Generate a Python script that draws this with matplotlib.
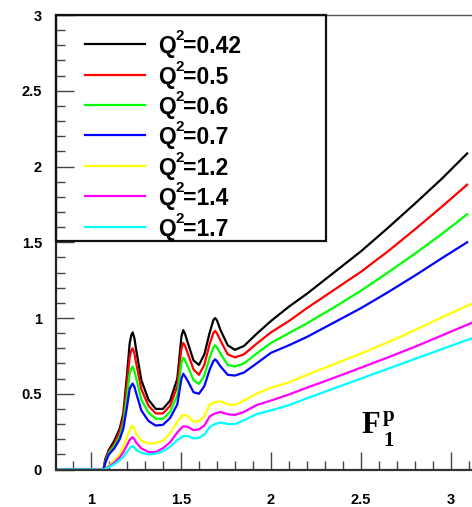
import numpy as np
import matplotlib
matplotlib.use("Agg")
import matplotlib.pyplot as plt
from matplotlib.patches import Rectangle
from matplotlib.ticker import MultipleLocator

plt.rcParams['font.family'] = ['Liberation Sans', 'DejaVu Sans']

nan = np.nan
W = [0.80, 1.07, 1.08, 1.10, 1.13, 1.16, 1.18, 1.20, 1.215, 1.224, 1.232, 1.242, 1.25, 1.28,
     1.32, 1.36, 1.40, 1.44, 1.48, 1.503, 1.513, 1.523, 1.54, 1.57, 1.60, 1.63, 1.66, 1.68,
     1.69, 1.70, 1.72, 1.76, 1.80, 1.85, 1.92, 2.0, 2.1, 2.2, 2.35, 2.5, 2.65, 2.8, 2.95,
     3.09, 3.15]

q2_labels = ['0.42', '0.5', '0.6', '0.7', '1.2', '1.4', '1.7']
colors = ['#000000', '#ff0000', '#00ff00', '#0000ff', '#ffff00', '#ff00ff', '#00ffff']

f_042 = [0, 0, 0.07, 0.13, 0.19, 0.27, 0.37, 0.62, 0.83, 0.885, 0.905, 0.865, 0.80, 0.59,
         0.46, 0.40, 0.40, 0.455, 0.60, 0.88, 0.92, 0.895, 0.83, 0.72, 0.69, 0.76, 0.905, 0.985,
         1.00, 0.985, 0.92, 0.82, 0.79, 0.815, 0.895, 0.98, 1.075, 1.16, 1.30, 1.44, 1.595, 1.755, 1.92,
         2.086, nan]
f_05 = [0, 0, 0.06, 0.12, 0.17, 0.25, 0.34, 0.56, 0.74, 0.785, 0.80, 0.765, 0.71, 0.53,
        0.42, 0.37, 0.37, 0.42, 0.55, 0.80, 0.835, 0.815, 0.76, 0.66, 0.625, 0.69, 0.83, 0.90,
        0.915, 0.90, 0.85, 0.76, 0.74, 0.76, 0.83, 0.905, 0.98, 1.065, 1.185, 1.305, 1.44, 1.585, 1.735,
        1.88, nan]
f_06 = [0, 0, 0.05, 0.11, 0.155, 0.22, 0.30, 0.48, 0.63, 0.665, 0.68, 0.65, 0.61, 0.46,
        0.375, 0.335, 0.335, 0.38, 0.49, 0.705, 0.738, 0.72, 0.675, 0.59, 0.565, 0.62, 0.74, 0.805,
        0.82, 0.805, 0.765, 0.69, 0.68, 0.70, 0.765, 0.835, 0.90, 0.965, 1.07, 1.18, 1.30, 1.425, 1.555,
        1.685, nan]
f_07 = [0, 0, 0.045, 0.10, 0.14, 0.20, 0.27, 0.41, 0.53, 0.555, 0.567, 0.545, 0.51, 0.39,
        0.32, 0.29, 0.295, 0.34, 0.43, 0.60, 0.632, 0.615, 0.58, 0.51, 0.50, 0.55, 0.66, 0.715,
        0.727, 0.715, 0.68, 0.625, 0.62, 0.64, 0.70, 0.77, 0.82, 0.875, 0.97, 1.065, 1.17, 1.28, 1.395,
        1.50, nan]
f_12 = [0, 0, 0.005, 0.025, 0.06, 0.10, 0.15, 0.215, 0.26, 0.28, 0.29, 0.27, 0.24, 0.19,
        0.17, 0.175, 0.19, 0.24, 0.315, 0.35, 0.36, 0.36, 0.35, 0.315, 0.32, 0.35, 0.43, 0.44,
        0.445, 0.447, 0.45, 0.43, 0.425, 0.455, 0.50, 0.54, 0.575, 0.625, 0.695, 0.765, 0.84, 0.92, 1.005,
        1.08, 1.11]
f_14 = [0, 0, 0.004, 0.02, 0.045, 0.08, 0.115, 0.16, 0.195, 0.207, 0.213, 0.20, 0.18, 0.14,
        0.115, 0.115, 0.14, 0.18, 0.245, 0.275, 0.285, 0.285, 0.28, 0.26, 0.265, 0.29, 0.35, 0.365,
        0.37, 0.373, 0.38, 0.365, 0.36, 0.38, 0.425, 0.455, 0.495, 0.54, 0.605, 0.672, 0.74, 0.81, 0.885,
        0.955, 0.985]
f_17 = [0, 0, 0.003, 0.015, 0.035, 0.06, 0.085, 0.115, 0.14, 0.15, 0.154, 0.145, 0.13, 0.11,
        0.10, 0.105, 0.12, 0.15, 0.195, 0.212, 0.22, 0.222, 0.22, 0.205, 0.21, 0.23, 0.28, 0.295,
        0.30, 0.303, 0.31, 0.30, 0.30, 0.325, 0.365, 0.39, 0.425, 0.47, 0.535, 0.60, 0.665, 0.73, 0.795,
        0.855, 0.88]
series = [f_042, f_05, f_06, f_07, f_12, f_14, f_17]

FW, FH = 472, 507
fig = plt.figure(figsize=(FW / 100, FH / 100), dpi=100)
ax = fig.add_axes([0.11864, 0.07396, 0.88136, 0.89645])


def px(x, y):
    # pixel position (from top left) -> figure fraction
    return x / FW, 1 - y / FH


for f, c in zip(series, colors):
    ax.plot(W, f, color=c, lw=1.6)

ax.set_xlim(0.806, 3.117)
ax.set_ylim(0, 3)
ax.xaxis.set_minor_locator(MultipleLocator(0.1))
ax.yaxis.set_minor_locator(MultipleLocator(0.1))
ax.set_xticks([1, 1.5, 2, 2.5, 3])
ax.set_xticklabels(['1', '1.5', '2', '2.5', '3'])
ax.set_yticks([0, 0.5, 1, 1.5, 2, 2.5, 3])
ax.set_yticklabels(['0', '0.5', '1', '1.5', '2', '2.5', '3'])
ax.tick_params(which='both', direction='in', color='#444444', width=1)
ax.tick_params(which='major', length=13)
ax.tick_params(which='minor', length=6.5)
ax.tick_params(axis='x', which='major', pad=17)
ax.tick_params(axis='y', which='major', pad=10)
for lab in ax.get_xticklabels() + ax.get_yticklabels():
    lab.set_fontweight('bold')
    lab.set_fontsize(10.5)

ax.spines['right'].set_visible(False)
ax.spines['top'].set_color('#555555')
ax.spines['top'].set_linewidth(1)
ax.spines['left'].set_linewidth(1.6)
ax.spines['left'].set_color('#222222')
ax.spines['bottom'].set_linewidth(1.6)
ax.spines['bottom'].set_color('#333333')

# legend box
ax.add_patch(Rectangle((0, 0.503), 0.649, 0.497, transform=ax.transAxes, fill=False,
                       ec='#111111', lw=1.6, zorder=5, clip_on=False))
row_px = [44, 75, 105, 135, 166, 196, 227]
for ypx, lab, c in zip(row_px, q2_labels, colors):
    yf = (470 - ypx) / 455
    ax.plot([0.0697, 0.214], [yf, yf], color=c, lw=1.6, transform=ax.transAxes)
    fig.text(*px(158, ypx + 9), 'Q', fontsize=16.5, fontweight='bold', va='baseline')
    fig.text(*px(175, ypx - 4), '2', fontsize=11, fontweight='bold', va='baseline')
    fig.text(*px(183, ypx + 9), '=' + lab, fontsize=16.5, fontweight='bold', va='baseline')

# F_1^p label
fig.text(*px(361, 433), 'F', fontsize=22, fontweight='bold', family='Liberation Serif',
         va='baseline')
fig.text(*px(383, 421), 'p', fontsize=15, fontweight='bold', family='Liberation Serif',
         va='baseline')
fig.text(*px(383, 445.5), '1', fontsize=15, fontweight='bold', family='Liberation Serif',
         va='baseline')

fig.savefig('out.png', dpi=100)
